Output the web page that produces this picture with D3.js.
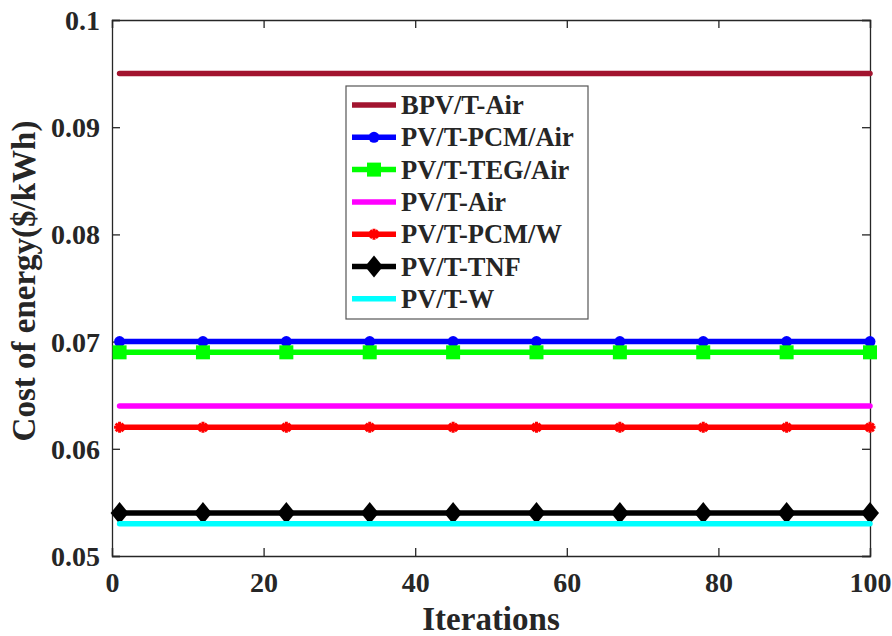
<!DOCTYPE html>
<html>
<head>
<meta charset="utf-8">
<script src="https://cdn.jsdelivr.net/npm/d3@7"></script>
<style>
  html, body { margin: 0; padding: 0; background: #fff; }
  svg { display: block; }
  text { font-family: "Liberation Serif", "Times New Roman", serif; font-weight: bold; fill: #262626; }
</style>
</head>
<body>
<svg id="chart" width="892" height="636"></svg>
<script>
// ---- data ----
const seriesNames = ["BPV/T-Air", "PV/T-PCM/Air", "PV/T-TEG/Air", "PV/T-Air", "PV/T-PCM/W", "PV/T-TNF", "PV/T-W"];
const seriesValues = [0.095, 0.070, 0.069, 0.064, 0.062, 0.054, 0.053];
const iterationRange = [1, 100];
const markerIterations = [1, 12, 23, 34, 45, 56, 67, 78, 89, 100];
const xTicks = [0, 20, 40, 60, 80, 100];
const yTicks = [0.05, 0.06, 0.07, 0.08, 0.09, 0.1];
const yTickLabels = ["0.05", "0.06", "0.07", "0.08", "0.09", "0.1"];

// ---- styles ----
const colors = ["#A2142F", "#0000FF", "#00FF00", "#FF00FF", "#FF0000", "#000000", "#00FFFF"];
const markers = ["none", "circle", "square", "none", "asterisk", "diamond", "none"];

const svg = d3.select("#chart");
const M = { left: 112, right: 870, top: 20, bottom: 556 };
const x = d3.scaleLinear().domain([0, 100]).range([M.left, M.right]);
const y = d3.scaleLinear().domain([0.05, 0.1]).range([M.bottom, M.top]);

const axisColor = "#262626";
const tickLen = 8;

const gAx = svg.append("g");
const xb = gAx.append("g").attr("transform", `translate(0,${M.bottom})`)
  .call(d3.axisBottom(x).tickValues(xTicks).tickSize(-tickLen).tickPadding(12).tickFormat(d3.format("d")));
const xt = gAx.append("g").attr("transform", `translate(0,${M.top})`)
  .call(d3.axisTop(x).tickValues(xTicks).tickSize(-tickLen).tickFormat(""));
const yl = gAx.append("g").attr("transform", `translate(${M.left},0)`)
  .call(d3.axisLeft(y).tickValues(yTicks).tickSize(-tickLen).tickPadding(12).tickFormat((d, i) => yTickLabels[i]));
const yr = gAx.append("g").attr("transform", `translate(${M.right},0)`)
  .call(d3.axisRight(y).tickValues(yTicks).tickSize(-tickLen).tickFormat(""));
[xb, xt, yl, yr].forEach(g => {
  g.select(".domain").attr("stroke", axisColor).attr("stroke-width", 1.3);
  g.selectAll(".tick line").attr("stroke", axisColor).attr("stroke-width", 1.3);
  g.selectAll(".tick text").style("font-size", "28px").style("font-family", "'Liberation Serif', serif")
    .style("font-weight", "bold").attr("fill", axisColor);
});
xb.selectAll(".tick text").attr("dy", "0.85em");
yl.selectAll(".tick text").attr("dy", "0.34em");

function drawMarker(g, type, cx, cy, color) {
  if (type === "circle") {
    g.append("circle").attr("cx", cx).attr("cy", cy).attr("r", 5.5).attr("fill", color);
  } else if (type === "square") {
    g.append("rect").attr("x", cx - 7).attr("y", cy - 7).attr("width", 14).attr("height", 14).attr("fill", color);
  } else if (type === "asterisk") {
    const r = 5.5;
    const p = `M${cx - r},${cy}L${cx + r},${cy}M${cx},${cy - r}L${cx},${cy + r}` +
      `M${cx - r * 0.7},${cy - r * 0.7}L${cx + r * 0.7},${cy + r * 0.7}M${cx - r * 0.7},${cy + r * 0.7}L${cx + r * 0.7},${cy - r * 0.7}`;
    g.append("path").attr("d", p).attr("stroke", color).attr("stroke-width", 3).attr("fill", "none");
  } else if (type === "diamond") {
    g.append("path").attr("d", `M${cx},${cy - 11}L${cx + 9},${cy}L${cx},${cy + 11}L${cx - 9},${cy}Z`).attr("fill", color);
  }
}

const line = d3.line().x(d => x(d[0])).y(d => y(d[1]));
const gLines = svg.append("g");
seriesNames.forEach((name, i) => {
  const g = gLines.append("g");
  const pts = iterationRange.map(it => [it, seriesValues[i]]);
  g.append("path").attr("d", line(pts)).attr("stroke", colors[i]).attr("stroke-width", 5.5)
    .attr("fill", "none").attr("stroke-linecap", "round");
  if (markers[i] !== "none") {
    markerIterations.forEach(it => drawMarker(g, markers[i], x(it), y(seriesValues[i]), colors[i]));
  }
});

// axis labels
svg.append("text").attr("x", (M.left + M.right) / 2).attr("y", 630).attr("text-anchor", "middle")
  .style("font-size", "33px").text("Iterations");
svg.append("text").attr("transform", `translate(35,281) rotate(-90)`).attr("text-anchor", "middle")
  .style("font-size", "33px").text("Cost of energy($/kWh)");

// legend
const L = { x: 346, y: 86, w: 242, h: 233 };
const gL = svg.append("g");
gL.append("rect").attr("x", L.x).attr("y", L.y).attr("width", L.w).attr("height", L.h)
  .attr("fill", "#fff").attr("stroke", "#555").attr("stroke-width", 1.2);
seriesNames.forEach((name, i) => {
  const cy = 105 + i * 32.3;
  gL.append("line").attr("x1", 352).attr("x2", 396).attr("y1", cy).attr("y2", cy)
    .attr("stroke", colors[i]).attr("stroke-width", 5.5);
  if (markers[i] !== "none") drawMarker(gL, markers[i], 374, cy, colors[i]);
  gL.append("text").attr("x", 401).attr("y", cy).attr("dy", "0.34em").style("font-size", "26.5px").attr("fill", "#000").text(name);
});
</script>
</body>
</html>
